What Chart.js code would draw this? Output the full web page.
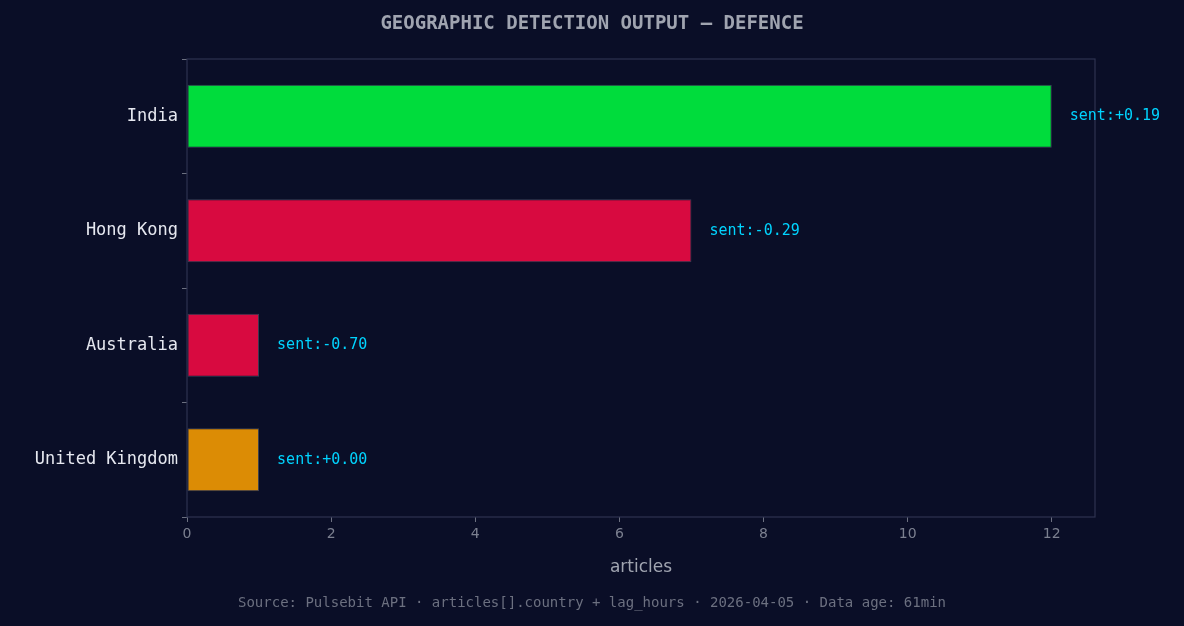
<!DOCTYPE html>
<html><head><meta charset="utf-8">
<script src="https://cdn.jsdelivr.net/npm/chart.js@4/dist/chart.umd.min.js"></script>
<style>html,body{margin:0;padding:0;background:#0a0e27;}#w{width:1184px;height:626px;}</style>
</head><body><div id="w"><canvas id="c"></canvas></div>
<script>
const countries = ["India", "Hong Kong", "Australia", "United Kingdom"];
const articles = [12, 7, 1, 1];
const sentiment = [0.19, -0.29, -0.70, 0.00];
const barColors = ["#00dc3c", "#d80a40", "#d80a40", "#dc8c05"];
const xTicks = [0, 2, 4, 6, 8, 10, 12];

const deco = {
  id: 'deco',
  afterDraw(chart) {
    const ctx = chart.ctx, a = chart.chartArea;
    ctx.save();
    ctx.strokeStyle = '#2e3350'; ctx.lineWidth = 1.2;
    ctx.strokeRect(a.left, a.top, a.right - a.left, a.bottom - a.top);
    ctx.fillStyle = '#a0a4b0'; ctx.font = 'bold 19px "DejaVu Sans Mono"';
    ctx.textAlign = 'center'; ctx.textBaseline = 'middle';
    ctx.fillText('GEOGRAPHIC DETECTION OUTPUT — DEFENCE', 592, 24);
    ctx.font = '17px "DejaVu Sans"'; ctx.fillStyle = '#a0a4b0';
    ctx.fillText('articles', (a.left + a.right) / 2, 568);
    ctx.font = '14px "DejaVu Sans Mono"'; ctx.fillStyle = '#6c7080';
    ctx.fillText('Source: Pulsebit API · articles[].country + lag_hours · 2026-04-05 · Data age: 61min', 592, 603);
    const meta = chart.getDatasetMeta(0);
    ctx.font = '15px "DejaVu Sans Mono"'; ctx.fillStyle = '#00d4ff'; ctx.textAlign = 'left';
    meta.data.forEach((b, i) => {
      const s = sentiment[i];
      const t = 'sent:' + (s >= 0 ? '+' : '-') + Math.abs(s).toFixed(2);
      ctx.fillText(t, b.x + 18, b.y);
    });
    ctx.restore();
  }
};

new Chart(document.getElementById('c'), {
  type: 'bar',
  data: { labels: countries, datasets: [{ data: articles, backgroundColor: barColors,
    borderColor: '#3a3f55', borderWidth: 1, borderSkipped: false, categoryPercentage: 1, barPercentage: 0.55 }] },
  options: {
    indexAxis: 'y', responsive: true, maintainAspectRatio: false, animation: false,
    layout: { padding: { left: 0, right: 89, top: 59, bottom: 0 } },
    plugins: { legend: { display: false }, tooltip: { enabled: false } },
    scales: {
      x: { min: 0, max: 12.6, afterFit: s => { s.height = 109; },
        afterBuildTicks: s => { s.ticks = xTicks.map(v => ({ value: v })); },
        grid: { drawOnChartArea: false, drawTicks: true, tickLength: 5, color: '#6c7080' },
        border: { display: false },
        ticks: { color: '#7c8090', font: { family: 'DejaVu Sans', size: 14 }, padding: 4 } },
      y: { afterFit: s => { s.width = 187; },
        grid: { drawOnChartArea: false, drawTicks: true, tickLength: 5, color: '#6c7080' },
        border: { display: false },
        ticks: { color: '#e6e8f0', font: { family: 'DejaVu Sans Mono', size: 17 }, padding: 4 } }
    }
  },
  plugins: [deco]
});
</script></body></html>
